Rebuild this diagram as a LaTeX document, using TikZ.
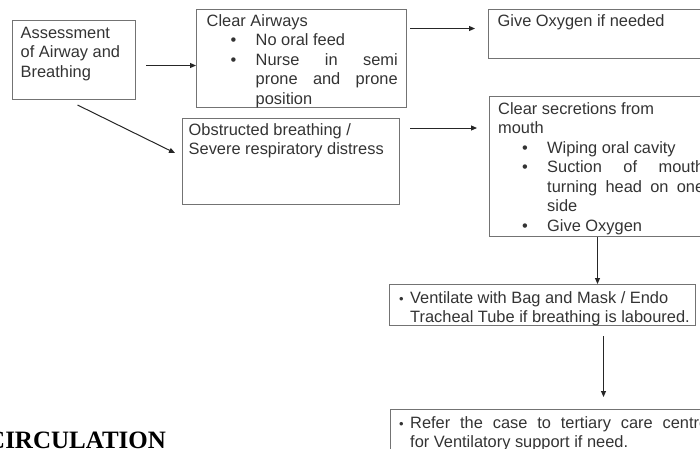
\documentclass[tikz,border=0pt]{standalone}
\usepackage{fontspec}
\setmainfont{Liberation Sans}
\newfontfamily\headfont{Liberation Serif}
\usetikzlibrary{arrows.meta,calc}
\tolerance=10000
\hyphenpenalty=10000
\exhyphenpenalty=10000
\newcommand{\bitem}{\par\noindent\hangindent=49pt\hangafter=1\makebox[49pt][l]{\hspace{24pt}\textbullet}}
\newcommand{\sitem}{\hangindent=11pt\hangafter=1\makebox[11pt][l]{\fontsize{13}{13}\selectfont\textbullet}}

\begin{document}
\begin{tikzpicture}[
  x=1pt,y=-1pt,
  font=\fontsize{16.4}{19.5}\selectfont,
  box/.style={draw=black!55,line width=1pt,inner sep=0pt,anchor=north west},
  txt/.style={anchor=base west,inner sep=0pt,text=black!80,align=justify},
  ar/.style={-{Triangle[length=6pt,width=5pt]},line width=1pt,draw=black!85}
]
\clip (0,0) rectangle (700,448);

\node[box,minimum width=123pt,minimum height=79pt] (assess) at (12,20) {};
\node[box,minimum width=210pt,minimum height=98pt] (airway) at (196,9) {};
\node[box,minimum width=217pt,minimum height=49pt] (oxy) at (488,9) {};
\node[box,minimum width=217pt,minimum height=86pt] (obst) at (182,118) {};
\node[box,minimum width=216pt,minimum height=140pt] (secr) at (489,96) {};
\node[box,minimum width=306pt,minimum height=41pt] (vent) at (389,284) {};
\node[box,minimum width=330pt,minimum height=60pt] (refer) at (390,409) {};

\node[txt,text width=110pt] (assesst) at (20.5,38) {Assessment\\of Airway and\\Breathing};
\node[txt,text width=191pt] (airwayt) at (206.5,26) {Clear Airways
  \bitem No oral feed
  \bitem Nurse in semi\linebreak prone and prone\linebreak position\par};
\node[txt,text width=200pt] (oxyt) at (497.5,26) {Give Oxygen if needed};
\node[txt,text width=205pt] (obstt) at (188.5,135) {Obstructed breathing /\\Severe respiratory distress};
\node[txt,text width=206pt] (secrt) at (498,114) {Clear secretions from\\mouth
  \bitem Wiping oral cavity
  \bitem Suction of mouth\linebreak turning head on one\linebreak side
  \bitem Give Oxygen\par};
\node[txt,text width=300pt] (ventt) at (399,303) {\sitem Ventilate with Bag and Mask / Endo\\Tracheal Tube if breathing is laboured.\par};
\node[txt,text width=309pt] (refert) at (399,428) {\sitem Refer the case to tertiary care centre\linebreak for Ventilatory support if need.\par};

\node[txt,text=black,font=\headfont\bfseries\fontsize{25}{25}\selectfont] (circ) at (-13,448.5) {CIRCULATION};

\draw[ar] ($(assess.east)+(10,5.5)$) -- ($(assess.east -| airway.west)+(0,5.5)$);
\draw[ar] ($(airway.east |- oxy.west)+(3,-5.5)$) -- ($(oxy.west)+(-13,-5.5)$);
\draw[ar] ($(assess.south)+(3.5,5)$) -- ($(obst.north west)+(-7,35)$);
\draw[ar] ($(obst.north east)+(10,10)$) -- ($(obst.north east -| secr.west)+(-12,10)$);
\draw[ar] (secr.south) -- (secr.south |- vent.north);
\draw[ar] ($(vent.south)+(61,10)$) -- ($(vent.south |- refer.north)+(61,-12)$);
\end{tikzpicture}
\end{document}
